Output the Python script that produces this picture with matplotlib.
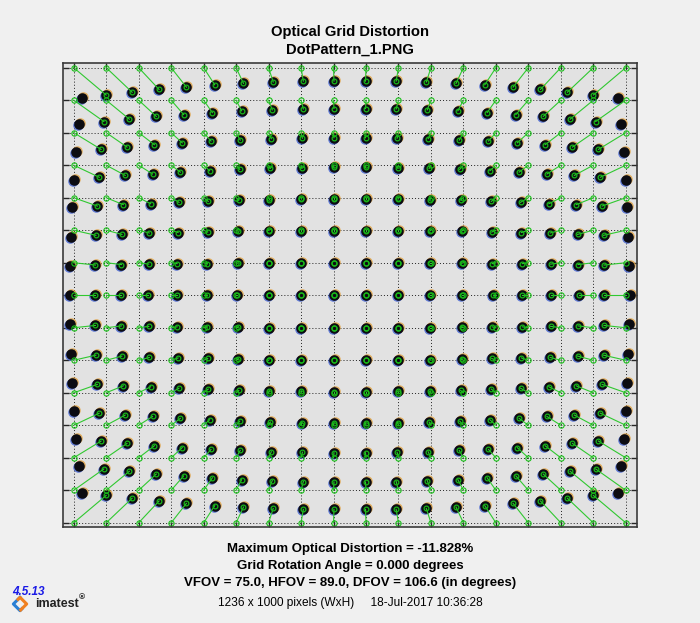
import numpy as np
import matplotlib.pyplot as plt
from matplotlib.transforms import offset_copy
from matplotlib.lines import Line2D

plt.rcParams['font.family'] = ['Liberation Sans', 'DejaVu Sans']

#===============================================================
#=               Data (image pixels, 1236 x 1000)              =
#===============================================================
img_w = 1236
img_h = 1000

# ideal grid points (green hollow circles)
ideal_x = [23, 93, 163, 233, 303, 373, 443, 513, 583, 653, 723, 793, 863, 933, 1003, 1073, 1143, 1213]
ideal_y = [10, 80, 150, 220, 290, 360, 430, 500, 570, 640, 710, 780, 850, 920, 990]

# measured dot centres; first and last column have no ideal partner
meas_x = [
    [40, 93, 149, 207, 266, 327, 389, 453, 518, 584, 652, 718, 783, 847, 909, 970, 1029, 1087, 1143, 1196],
    [34, 88, 143, 201, 260, 322, 385, 451, 518, 584, 652, 718, 785, 851, 914, 976, 1035, 1093, 1148, 1202],
    [28, 82, 138, 197, 257, 319, 382, 449, 516, 584, 652, 720, 787, 854, 917, 979, 1039, 1098, 1154, 1208],
    [23, 78, 134, 193, 253, 316, 381, 447, 515, 584, 652, 721, 789, 855, 920, 983, 1043, 1102, 1158, 1213],
    [20, 74, 130, 189, 250, 313, 379, 445, 514, 583, 653, 722, 791, 857, 923, 986, 1047, 1106, 1162, 1216],
    [18, 71, 127, 186, 248, 312, 377, 444, 513, 583, 653, 723, 792, 859, 924, 988, 1050, 1109, 1165, 1218],
    [16, 70, 126, 185, 246, 311, 377, 444, 513, 583, 653, 723, 792, 859, 925, 990, 1051, 1110, 1166, 1220],
    [15, 69, 125, 184, 246, 310, 376, 444, 513, 583, 653, 723, 792, 860, 926, 990, 1052, 1111, 1167, 1221],
    [16, 70, 126, 185, 246, 311, 377, 444, 513, 583, 653, 723, 792, 859, 925, 990, 1051, 1110, 1166, 1220],
    [18, 71, 127, 186, 248, 312, 377, 444, 513, 583, 653, 723, 792, 859, 924, 988, 1050, 1109, 1165, 1218],
    [20, 74, 130, 189, 250, 313, 379, 445, 514, 583, 653, 722, 791, 857, 923, 986, 1047, 1106, 1162, 1216],
    [23, 78, 134, 193, 253, 316, 381, 447, 515, 584, 652, 721, 789, 855, 920, 983, 1043, 1102, 1158, 1213],
    [28, 82, 138, 197, 257, 319, 382, 449, 516, 584, 652, 720, 787, 854, 917, 979, 1039, 1098, 1154, 1208],
    [34, 88, 143, 201, 260, 322, 385, 451, 518, 584, 652, 718, 785, 851, 914, 976, 1035, 1093, 1148, 1202],
    [40, 93, 149, 207, 266, 327, 389, 453, 518, 584, 652, 718, 783, 847, 909, 970, 1029, 1087, 1143, 1196],
]
meas_y = [
    [75, 69, 63, 57, 52, 47, 44, 41, 39, 39, 39, 39, 41, 44, 47, 52, 57, 63, 69, 75],
    [132, 126, 121, 115, 111, 107, 103, 101, 99, 98, 98, 99, 101, 103, 107, 111, 115, 121, 126, 132],
    [191, 186, 181, 176, 172, 168, 166, 163, 162, 161, 161, 162, 163, 166, 168, 172, 176, 181, 186, 191],
    [251, 246, 242, 239, 235, 232, 229, 227, 226, 225, 225, 226, 227, 229, 232, 235, 239, 242, 246, 251],
    [311, 308, 305, 303, 300, 298, 295, 294, 293, 292, 292, 293, 294, 295, 298, 300, 303, 305, 308, 311],
    [374, 371, 369, 366, 365, 364, 362, 361, 361, 361, 361, 361, 361, 362, 364, 365, 366, 369, 371, 374],
    [438, 435, 434, 433, 432, 432, 431, 430, 430, 430, 430, 430, 430, 431, 432, 432, 433, 434, 435, 438],
    [500, 500, 500, 500, 500, 500, 500, 500, 500, 500, 500, 500, 500, 500, 500, 500, 500, 500, 500, 500],
    [562, 565, 566, 567, 568, 568, 569, 570, 570, 570, 570, 570, 570, 569, 568, 568, 567, 566, 565, 562],
    [626, 629, 631, 634, 635, 636, 638, 639, 639, 639, 639, 639, 639, 638, 636, 635, 634, 631, 629, 626],
    [689, 692, 695, 697, 700, 702, 705, 706, 707, 708, 708, 707, 706, 705, 702, 700, 697, 695, 692, 689],
    [749, 754, 758, 761, 765, 768, 771, 773, 774, 775, 775, 774, 773, 771, 768, 765, 761, 758, 754, 749],
    [809, 814, 819, 824, 828, 832, 834, 837, 838, 839, 839, 838, 837, 834, 832, 828, 824, 819, 814, 809],
    [868, 874, 879, 885, 889, 893, 897, 899, 901, 902, 902, 901, 899, 897, 893, 889, 885, 879, 874, 868],
    [925, 931, 937, 943, 948, 953, 956, 959, 961, 961, 961, 961, 959, 956, 953, 948, 943, 937, 931, 925],
]

title1 = "Optical Grid Distortion"
title2 = "DotPattern_1.PNG"
info_lines = [
    "Maximum Optical Distortion = -11.828%",
    "Grid Rotation Angle = 0.000 degrees",
    "VFOV = 75.0, HFOV = 89.0, DFOV = 106.6 (in degrees)",
]
footer = "1236 x 1000 pixels (WxH)     18-Jul-2017 10:36:28"
version = "4.5.13"

#===============================================================
#=               Plot                                          =
#===============================================================
fig = plt.figure(figsize=(7, 6.23), dpi=100, facecolor='#f0f0f0')
ax = fig.add_axes([0.09, 0.1533, 0.8193, 0.7456])
ax.set_facecolor('#e2e2e2')
ax.set_xlim(0, img_w)
ax.set_ylim(img_h, 0)
ax.set_xticks(ideal_x)
ax.set_yticks(ideal_y)
ax.tick_params(direction='in', length=4, width=1, color='#262626',
               top=True, right=True, labelbottom=False, labelleft=False)
ax.grid(True, color='#202020', linestyle=(0, (1, 2.2)), linewidth=0.7)
ax.set_axisbelow(True)
for s in ax.spines.values():
    s.set_color('#3a3a3a')
    s.set_linewidth(1.2)

mx = np.array(meas_x).ravel()
my = np.array(meas_y).ravel()
ox = np.array(meas_x)[:, 1:19].ravel()
oy = np.array(meas_y)[:, 1:19].ravel()
IX, IY = np.meshgrid(ideal_x, ideal_y)
IX = IX.ravel()
IY = IY.ravel()

# dots with a faint colour fringe
ax.plot(mx, my, 'o', ms=7.6, color='#4060d0', mec='none', alpha=0.8,
        transform=offset_copy(ax.transData, fig=fig, x=-1, y=-1, units='dots'))
ax.plot(mx, my, 'o', ms=7.6, color='#e0a040', mec='none', alpha=0.8,
        transform=offset_copy(ax.transData, fig=fig, x=1, y=1, units='dots'))
ax.plot(mx, my, 'o', ms=7.6, color='#0c0c12', mec='none')

# displacement lines ideal -> measured
ax.plot(np.vstack([IX, ox]), np.vstack([IY, oy]), color='#30c830', lw=0.8)
ax.plot(IX, IY, 'o', ms=3.8, mfc='none', mec='#18c018', mew=0.8, clip_on=False)
ax.plot(ox, oy, 'o', ms=3.4, mfc='none', mec='#18b818', mew=0.9)

fig.text(0.5, 0.9486, title1, ha='center', va='center', fontsize=10.6, weight='bold')
fig.text(0.5, 0.9197, title2, ha='center', va='center', fontsize=10.6, weight='bold')
for k, t in enumerate(info_lines):
    fig.text(0.5, 0.1188 - k * 0.0273, t, ha='center', va='center', fontsize=9.5, weight='bold')
fig.text(0.5, 0.0321, footer, ha='center', va='center', fontsize=8.6)

fig.text(0.017, 0.0498, version, ha='left', va='center', fontsize=8.5,
         color='#1a1ae6', style='italic', weight='bold')
fig.text(0.05, 0.0305, "imatest", ha='left', va='center', fontsize=9, weight='bold', color='#222222')
fig.text(0.112, 0.040, "\u00ae", ha='left', va='center', fontsize=6, weight='bold', color='#222222')

# small diamond logo
cx, cy, r = 0.0286, 0.0305, 0.0095
ry = r * 700 / 623
fig.add_artist(Line2D([cx, cx - r, cx, cx + r * 0.3], [cy + ry, cy, cy - ry, cy - ry * 0.7],
                      transform=fig.transFigure, color='#2a7fd4', lw=2.2))
fig.add_artist(Line2D([cx + r * 0.1, cx + r, cx, cx - r * 0.3], [cy - ry * 0.9, cy, cy + ry, cy + ry * 0.7],
                      transform=fig.transFigure, color='#f08020', lw=2.2))

plt.savefig('out.png', dpi=100, facecolor=fig.get_facecolor())
